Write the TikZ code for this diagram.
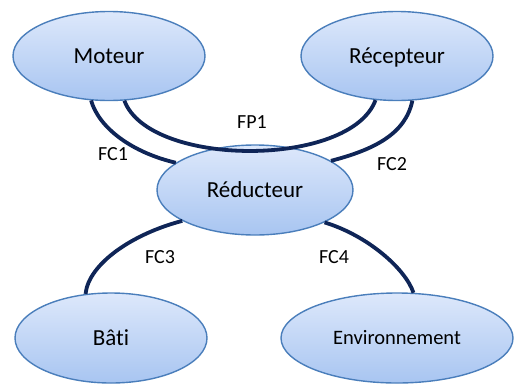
\documentclass[tikz,border=0pt]{standalone}
\usepackage{fontspec}
\setmainfont{Carlito}[Ligatures=NoCommon]
\usetikzlibrary{shapes.geometric}
\definecolor{ellborder}{HTML}{4A7EBB}
\definecolor{elltop}{HTML}{DDE8FB}
\definecolor{ellbot}{HTML}{A8C5F1}
\definecolor{linkcol}{HTML}{0F2557}
\tikzset{
  bubble/.style={ellipse, draw=ellborder, line width=1.4pt, top color=elltop, bottom color=ellbot,
    inner sep=0pt, minimum height=89pt, font=\fontsize{23}{26}\selectfont,
    text height=14.8pt, text depth=0pt},
  link/.style={draw=linkcol, line width=3.8pt},
  lab/.style={font=\fontsize{20}{24}\selectfont, inner sep=0pt, text height=12.9pt, text depth=0pt}
}
\begin{document}
\begin{tikzpicture}[x=1pt,y=-1pt]
\useasboundingbox (0,0) rectangle (532,383);
\node[bubble, minimum width=192pt] (mot) at (109,56) {Moteur};
\node[bubble, minimum width=192pt] (rec) at (397,56) {Récepteur};
\node[bubble, minimum width=196pt, minimum height=90pt] (red) at (255,190) {Réducteur};
\node[bubble, minimum width=192pt, minimum height=90pt] (bati) at (111,338) {Bâti};
\node[bubble, minimum width=232pt, minimum height=90pt, font=\fontsize{20.5}{24}\selectfont, text height=13.2pt] (env) at (397,338) {Environnement};

\draw[link] (mot.-112) .. controls +(8,28) and +(-43,-10) .. (red.161);
\draw[link] (mot.-71) .. controls +(25,67) and +(-25,68) .. (rec.-116.6);
\draw[link] (rec.-71) .. controls +(-7,34) and +(42,-11) .. (red.21);
\draw[link] (red.-157) .. controls +(-50,13) and +(3,-30) .. (bati.120);
\draw[link] (red.-25.5) .. controls +(43,13) and +(-8,-24) .. (env.70);

\node[lab] (fp1) at (252,122) {FP1};
\node[lab] (fc1) at (113,154) {FC1};
\node[lab] (fc2) at (392,164) {FC2};
\node[lab] (fc3) at (160,257) {FC3};
\node[lab] (fc4) at (334,257) {FC4};
\end{tikzpicture}
\end{document}
